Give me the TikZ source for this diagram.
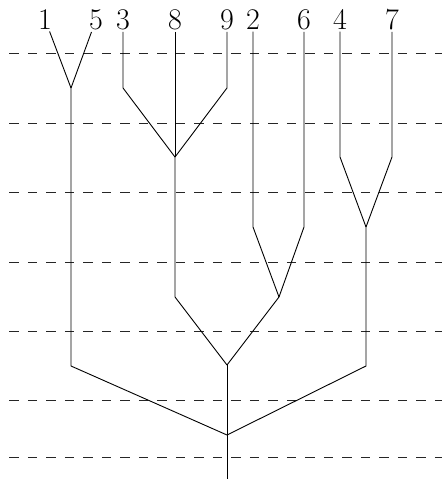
\documentclass[tikz,border=0pt]{standalone}
\begin{document}
\begin{tikzpicture}[x=1pt,y=1pt,
  edge/.style={line width=0.9pt,black},
  level/.style={line width=0.9pt,black!85,dash pattern=on 9.5pt off 9pt},
  leaf/.style={inner sep=2pt,anchor=base,font=\fontsize{30}{36}\selectfont}]
\useasboundingbox (0,0) rectangle (442,-479);
% dashed levels
\foreach \y [count=\i] in {53,123,192,262,331,400,457}
  \draw[level] (9.3,-\y) coordinate (l\i) -- (442,-\y);
% leaves
\node[leaf] (n1) at (45,-29.3) {1};
\node[leaf] (n5) at (96,-29.3) {5};
\node[leaf] (n3) at (123,-29.3) {3};
\node[leaf] (n8) at (175,-29.3) {8};
\node[leaf] (n9) at (227,-29.3) {9};
\node[leaf] (n2) at (253,-29.3) {2};
\node[leaf] (n6) at (304,-29.3) {6};
\node[leaf] (n4) at (340,-29.3) {4};
\node[leaf] (n7) at (392,-29.3) {7};
% junction coordinates
\coordinate (j15) at (71,-88);
\coordinate (b15) at (71,-366);
\coordinate (k3) at (123,-88);
\coordinate (k9) at (227,-88);
\coordinate (j389) at (175,-157);
\coordinate (k389) at (175,-297);
\coordinate (k2) at (253,-227);
\coordinate (k6) at (304,-227);
\coordinate (j26) at (279,-297);
\coordinate (jA) at (227,-365);
\coordinate (k4) at (340,-157);
\coordinate (k7) at (392,-157);
\coordinate (j47) at (366,-227);
\coordinate (k47) at (366,-366);
\coordinate (root) at (227,-435);
\coordinate (end) at (227,-479);
% edges
\draw[edge] (n1) -- (j15);
\draw[edge] (n5) -- (j15);
\draw[edge] (j15) -- (b15) -- (root);
\draw[edge] (n3) -- (k3) -- (j389);
\draw[edge] (n8) -- (j389);
\draw[edge] (n9) -- (k9) -- (j389);
\draw[edge] (j389) -- (k389) -- (jA);
\draw[edge] (n2) -- (k2) -- (j26);
\draw[edge] (n6) -- (k6) -- (j26);
\draw[edge] (j26) -- (jA);
\draw[edge] (jA) -- (root);
\draw[edge] (n4) -- (k4) -- (j47);
\draw[edge] (n7) -- (k7) -- (j47);
\draw[edge] (j47) -- (k47) -- (root);
\draw[edge] (root) -- (end);
\end{tikzpicture}
\end{document}
